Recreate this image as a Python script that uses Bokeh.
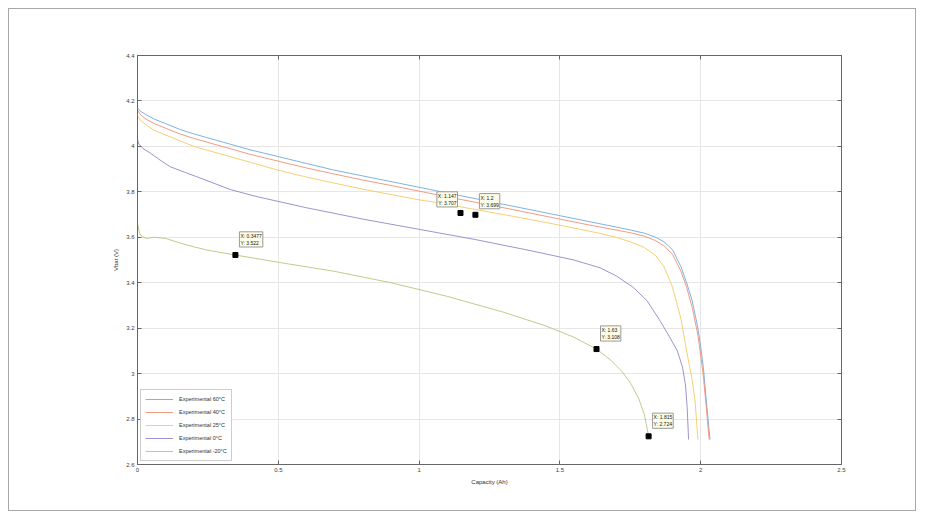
from bokeh.plotting import figure
from bokeh.models import LinearAxis, Label, Legend, LegendItem, Range1d, FixedTicker, ColumnDataSource
from bokeh.embed import file_html
from bokeh.resources import INLINE

title = "18650B Battery voltage vs capacity @ multiple temperatures and 1.0C"
x_label = "Capacity (Ah)"
y_label = "Vbat (V)"
x_ticks = [0, 0.5, 1, 1.5, 2, 2.5]
y_ticks = [2.6, 2.8, 3, 3.2, 3.4, 3.6, 3.8, 4, 4.2, 4.4]

series_names = ["Experimental 60\u00b0C", "Experimental 40\u00b0C", "Experimental 25\u00b0C",
                "Experimental 0\u00b0C", "Experimental -20\u00b0C"]

cap_60 = [0, 0.01, 0.03, 0.06, 0.1, 0.15, 0.2, 0.3, 0.4, 0.5, 0.6, 0.7, 0.8, 0.9, 1.0, 1.1, 1.2, 1.3,
          1.4, 1.5, 1.6, 1.7, 1.75, 1.8, 1.84, 1.87, 1.9, 1.93, 1.95, 1.97, 1.99, 2.0, 2.01, 2.02, 2.033]
v_60 = [4.17, 4.155, 4.14, 4.12, 4.10, 4.075, 4.055, 4.02, 3.985, 3.955, 3.925, 3.895, 3.87, 3.845,
        3.82, 3.795, 3.77, 3.745, 3.72, 3.695, 3.67, 3.645, 3.632, 3.618, 3.60, 3.58, 3.545, 3.47,
        3.40, 3.32, 3.20, 3.12, 3.02, 2.88, 2.71]

cap_40 = [0, 0.01, 0.03, 0.06, 0.1, 0.15, 0.2, 0.3, 0.4, 0.5, 0.6, 0.7, 0.8, 0.9, 1.0, 1.1, 1.2, 1.3,
          1.4, 1.5, 1.6, 1.7, 1.75, 1.8, 1.84, 1.87, 1.9, 1.93, 1.95, 1.97, 1.99, 2.0, 2.01, 2.02, 2.03]
v_40 = [4.16, 4.14, 4.12, 4.10, 4.08, 4.055, 4.035, 4.0, 3.965, 3.935, 3.905, 3.878, 3.852, 3.828,
        3.803, 3.778, 3.754, 3.73, 3.705, 3.68, 3.655, 3.632, 3.62, 3.605, 3.585, 3.562, 3.525, 3.45,
        3.38, 3.29, 3.17, 3.08, 2.98, 2.85, 2.71]

cap_25 = [0, 0.01, 0.03, 0.06, 0.1, 0.15, 0.2, 0.3, 0.4, 0.5, 0.6, 0.7, 0.8, 0.9, 1.0, 1.1, 1.2, 1.3,
          1.4, 1.5, 1.6, 1.65, 1.7, 1.75, 1.8, 1.84, 1.87, 1.9, 1.93, 1.95, 1.97, 1.98, 1.99]
v_25 = [4.135, 4.115, 4.095, 4.07, 4.05, 4.025, 4.0, 3.965, 3.93, 3.895, 3.865, 3.838, 3.812, 3.788,
        3.765, 3.745, 3.722, 3.70, 3.677, 3.653, 3.628, 3.615, 3.60, 3.58, 3.555, 3.52, 3.47, 3.38,
        3.24, 3.10, 2.97, 2.88, 2.71]

cap_0 = [0, 0.005, 0.02, 0.046, 0.08, 0.117, 0.17, 0.224, 0.33, 0.42, 0.6, 0.8, 1.0, 1.2, 1.4, 1.55,
         1.644, 1.7, 1.76, 1.81, 1.857, 1.89, 1.917, 1.935, 1.946, 1.952, 1.957]
v_0 = [4.03, 4.01, 3.99, 3.97, 3.94, 3.91, 3.885, 3.86, 3.81, 3.78, 3.73, 3.68, 3.635, 3.59, 3.54,
       3.50, 3.465, 3.43, 3.38, 3.32, 3.23, 3.16, 3.10, 3.03, 2.95, 2.85, 2.71]

cap_m20 = [0, 0.005, 0.01, 0.03, 0.06, 0.1, 0.15, 0.2, 0.25, 0.3477, 0.5, 0.7, 0.9, 1.1, 1.3, 1.45,
           1.55, 1.63, 1.68, 1.72, 1.75, 1.78, 1.8, 1.815]
v_m20 = [3.66, 3.63, 3.61, 3.595, 3.6, 3.595, 3.575, 3.558, 3.543, 3.522, 3.49, 3.45, 3.40, 3.34,
         3.27, 3.21, 3.16, 3.108, 3.06, 3.01, 2.96, 2.89, 2.82, 2.724]

tip_x = [0.3477, 1.147, 1.2, 1.63, 1.815]
tip_y = [3.522, 3.707, 3.699, 3.108, 2.724]

colors = ["#6aa6dc", "#ef8a6c", "#f2c85a", "#8f7fc8", "#b4c277"]

p = figure(width=908, height=503, output_backend="svg", toolbar_location=None,
           x_range=Range1d(0, 2.5), y_range=Range1d(2.6, 4.4),
           min_border_left=128, min_border_right=76, min_border_top=46, min_border_bottom=48)
p.styles = {"border": "1px solid #a8a8a8", "margin-left": "8px", "margin-top": "8px"}
p.background_fill_color = "white"
p.border_fill_color = "white"
p.outline_line_color = "#666666"
p.outline_line_width = 1

font = "Liberation Sans"
for ax in [p.xaxis[0], p.yaxis[0]]:
    ax.major_label_text_font = font
    ax.major_label_text_font_size = "6px"
    ax.major_label_text_color = "#404040"
    ax.axis_label_text_font = font
    ax.axis_label_text_font_size = "6px"
    ax.axis_label_text_font_style = "normal"
    ax.axis_label_text_color = "#303030"
    ax.axis_line_color = "#666666"
    ax.major_tick_line_color = "#666666"
    ax.major_tick_in = 4
    ax.major_tick_out = 0
    ax.minor_tick_line_color = None
    ax.axis_label_standoff = 4
    ax.major_label_standoff = 3

p.xaxis[0].ticker = FixedTicker(ticks=x_ticks)
p.yaxis[0].ticker = FixedTicker(ticks=y_ticks)
p.xaxis[0].axis_label = x_label
p.yaxis[0].axis_label = y_label
p.yaxis[0].major_label_orientation = "horizontal"
p.xaxis[0].major_label_overrides = {0: "0", 1: "1", 2: "2"}
p.yaxis[0].major_label_overrides = {3: "3", 4: "4"}

for loc, tk in [("right", y_ticks), ("above", x_ticks)]:
    ax = LinearAxis(ticker=FixedTicker(ticks=tk), major_label_text_font_size="0px",
                    major_label_text_color=None, axis_line_color="#666666",
                    major_tick_line_color="#666666", major_tick_in=4, major_tick_out=0,
                    minor_tick_line_color=None, major_label_standoff=0)
    p.add_layout(ax, loc)

p.xgrid.ticker = FixedTicker(ticks=x_ticks)
p.ygrid.ticker = FixedTicker(ticks=y_ticks)
p.grid.grid_line_color = "#e6e6e6"
p.grid.grid_line_width = 1

caps = [cap_60, cap_40, cap_25, cap_0, cap_m20]
volts = [v_60, v_40, v_25, v_0, v_m20]
items = []
for name, cx, vy, c in zip(series_names, caps, volts, colors):
    r = p.line(cx, vy, line_color=c, line_width=1, line_alpha=0.85)
    items.append(LegendItem(label=name, renderers=[r]))

legend = Legend(items=items, location="bottom_left", label_text_font=font,
                label_text_font_size="5.5px", label_text_color="#303030",
                glyph_height=10, glyph_width=28, label_height=10, spacing=3,
                padding=4, margin=3, border_line_color="#9a9a9a", border_line_width=1,
                background_fill_color="white", background_fill_alpha=1, label_standoff=6)
p.add_layout(legend)

src = ColumnDataSource(dict(x=tip_x, y=tip_y))
p.scatter("x", "y", source=src, marker="square", size=5, fill_color="black", line_color="black")

tip_offsets = [(4, 8, "left"), (-3, 6, "right"), (4, 6, "left"), (4, 8, "left"), (4, 8, "left")]
for tx, ty, (ox, oy, al) in zip(tip_x, tip_y, tip_offsets):
    lab = Label(x=tx, y=ty, x_offset=ox, y_offset=oy, text=f"X: {tx:.4g}\nY: {ty:.4g}",
                text_font=font, text_font_size="5px", text_color="#202020", text_align=al,
                text_baseline="bottom", background_fill_color="#fbfbe6", background_fill_alpha=1,
                border_line_color="#9a9a9a", border_line_width=1, padding=1)
    p.add_layout(lab)

p.add_layout(Label(x=1.25, y=4.4, y_offset=5, text=title, text_font=font, text_font_size="7px",
                   text_font_style="bold", text_color="#202020", text_align="center",
                   text_baseline="bottom"))

open("out.html", "w").write(file_html(p, INLINE))
